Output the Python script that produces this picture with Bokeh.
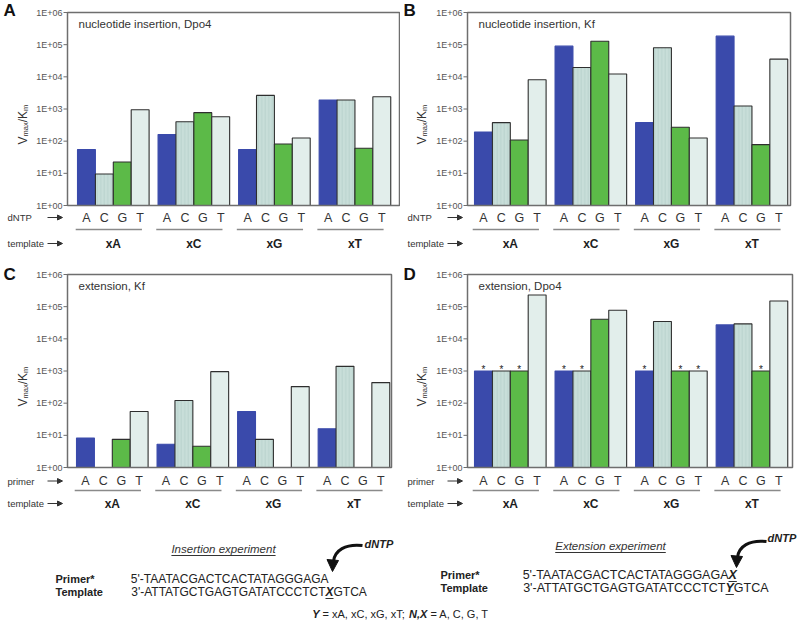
import math
from bokeh.plotting import figure
from bokeh.layouts import column, row
from bokeh.models import Range1d, ColumnDataSource, Arrow, NormalHead
from bokeh.core.properties import value
from bokeh.embed import file_html
from bokeh.resources import INLINE

# ---------------- data ----------------
templates = ["xA", "xC", "xG", "xT"]
bases = ["A", "C", "G", "T"]
tick_values = [1, 10, 100, 1000, 10000, 100000, 1000000]
tick_labels = ["1E+00", "1E+01", "1E+02", "1E+03", "1E+04", "1E+05", "1E+06"]

# values ordered template-major: xA(A,C,G,T), xC(...), xG(...), xT(...)
ins_dpo4 = [55, 9.5, 22.6, 950, 160, 400, 770, 577, 55, 2650, 82, 126, 1900, 1900, 60, 2400]
ins_kf = [193, 376, 109, 8100, 90000, 19500, 128000, 12200, 376, 80000, 270, 126, 184000, 1240, 78, 35500]
ext_kf = [8.3, None, 7.5, 55, 5.3, 121, 4.6, 953, 55, 7.5, None, 327, 16, 1394, None, 436]
ext_dpo4 = [1000, 1000, 1000, 230000, 1000, 1000, 40600, 77000, 1000, 34400, 1000, 1000, 27100, 29100, 1000, 150000]
ext_dpo4_stars = [1, 1, 1, 0, 1, 1, 0, 0, 1, 0, 1, 1, 0, 0, 1, 0]

BAR_FILL = {"A": "#3a4aab", "C": "#c8ded9", "G": "#5cba48", "T": "#e2eeeb"}
BAR_LINE = {"A": "#3a4aab", "C": "#2e2e2e", "G": "#2e2e2e", "T": "#2e2e2e"}
BAR_HATCH = {"A": " ", "C": "|", "G": " ", "T": " "}

FONT = "Liberation Sans"
U = 17.9          # px per bar
PITCH = 4.5       # bar units per template group
FRAME_H = 193
DEC = FRAME_H / 6.0   # px per decade


def make_panel(letter, title, vals, rowlabel, fig_left, fig_top, fig_h,
               frame_top, frame_left, frame_right, first_bar, offs, stars=None):
    frame_bottom = frame_top + FRAME_H

    def xv(px):
        return (px - first_bar) / U

    def yv(py):
        return 10 ** ((frame_bottom - py) / DEC)

    p = figure(width=400, height=fig_h,
               x_range=Range1d(xv(fig_left), xv(fig_left + 400)),
               y_range=Range1d(yv(fig_top + fig_h), yv(fig_top)),
               y_axis_type="log", toolbar_location=None, output_backend="svg",
               min_border=0, x_axis_location=None, y_axis_location=None)
    p.grid.visible = False
    p.outline_line_color = None

    def txt(x, y, s, size, style="normal", align="left", color="#333333",
            baseline="middle", angle=0.0):
        p.text(x=x, y=y, text=s, text_font=value(FONT),
               text_font_size=value(f"{size}px"), text_font_style=value(style),
               text_align=value(align), text_baseline=value(baseline),
               text_color=color, angle=angle)

    centers, letters, gcs = [], [], []
    for g in range(4):
        gcs.append(g * PITCH + 2)
        for i, b in enumerate(bases):
            centers.append(g * PITCH + i + 0.5)
            letters.append(b)

    # bars
    bx, bt, bf, bl, bh = [], [], [], [], []
    sx, sy = [], []
    for k, v in enumerate(vals):
        if v is None:
            continue
        b = letters[k]
        bx.append(centers[k])
        bt.append(v)
        bf.append(BAR_FILL[b])
        bl.append(BAR_LINE[b])
        bh.append(BAR_HATCH[b])
        if stars is not None and stars[k]:
            sx.append(centers[k])
            sy.append(v * 10 ** (1.5 / DEC))
    src = ColumnDataSource(dict(x=bx, top=bt, fill=bf, line=bl, hatch=bh))
    p.vbar(x="x", top="top", bottom=tick_values[0], width=1, fill_color="fill",
           line_color="line", line_width=1.1, hatch_pattern="hatch",
           hatch_color="#a9c8c1", hatch_alpha=0.5, hatch_scale=3.5,
           hatch_weight=1, source=src)
    if sx:
        txt(sx, sy, ["*"] * len(sx), 10, align="center", baseline="alphabetic",
            color="#222222")

    # plot box
    p.quad(left=[xv(frame_left)], right=[xv(frame_right)],
           bottom=[tick_values[0]], top=[tick_values[-1]],
           fill_color=None, line_color="#6e6e6e", line_width=1.5)

    # y ticks and labels
    p.segment(x0=[xv(frame_left - 4)] * len(tick_values), y0=tick_values,
              x1=[xv(frame_left)] * len(tick_values), y1=tick_values,
              line_color="#6e6e6e", line_width=1)
    txt([xv(frame_left - 5)] * len(tick_values), tick_values, tick_labels, 9,
        align="right", color="#555555")

    # x category labels
    o1, o2, o3 = offs
    txt(centers, [yv(frame_bottom + o1)] * 16, letters, 12.5, align="center",
        color="#333333")
    txt(gcs, [yv(frame_bottom + o3)] * 4, templates, 12, style="bold",
        align="center", color="#1e1e1e")
    p.segment(x0=[g * PITCH - 0.1 for g in range(4)], y0=[yv(frame_bottom + o2)] * 4,
              x1=[g * PITCH + 3.6 for g in range(4)], y1=[yv(frame_bottom + o2)] * 4,
              line_color="#8a8a8a", line_width=1.6)

    # row labels + arrows
    L = fig_left + 7
    txt([xv(L), xv(L)], [yv(frame_bottom + o1), yv(frame_bottom + o3)],
        [rowlabel, "template"], 9.5, color="#333333")
    for dy in (o1, o3):
        p.add_layout(Arrow(x_start=xv(L + 40), y_start=yv(frame_bottom + dy),
                           x_end=xv(L + 55), y_end=yv(frame_bottom + dy),
                           end=NormalHead(size=5, fill_color="#333333",
                                          line_color="#333333"),
                           line_color="#333333", line_width=1))

    # panel title and letter
    txt([xv(frame_left + 11)], [yv(frame_top + 11)], [title], 11.5, color="#333333")
    txt([xv(fig_left + 3)], [yv(frame_top - 2 if fig_top == 0 else frame_top)], [letter],
        17, style="bold", color="#111111")

    # y-axis label V_max/K_m (rotated)
    lab_x = fig_left + (22 if fig_left == 0 else 21)
    cur = frame_bottom - 61
    pieces = [("V", 12, 0, 0.667), ("max", 7.5, 3, 1.889), ("/K", 12, 0, 0.945),
              ("m", 7.5, 3, 0.833)]
    for s, size, dx, em in pieces:
        txt([xv(lab_x + dx)], [yv(cur)], [s], size, color="#333333",
            angle=math.pi / 2)
        cur -= em * size
    return p


pA = make_panel("A", "nucleotide insertion, Dpo4", ins_dpo4, "dNTP",
                0, 0, 266, 12, 67, 399, 77, (12, 24, 38))
pB = make_panel("B", "nucleotide insertion, Kf", ins_kf, "dNTP",
                400, 0, 266, 12, 467, 790, 474, (12, 24, 38))
pC = make_panel("C", "extension, Kf", ext_kf, "primer",
                0, 266, 264, 274, 67, 391, 76, (13.5, 23, 36))
pD = make_panel("D", "extension, Dpo4", ext_dpo4, "primer",
                400, 266, 264, 274, 467, 792, 474, (13.5, 23, 36),
                stars=ext_dpo4_stars)

# ---------------- bottom scheme ----------------
REG = {' ': 278, "'": 191, '*': 389, ',': 278, '-': 333, ';': 278, '=': 584,
       '3': 556, '5': 556, 'A': 667, 'C': 722, 'G': 778, 'T': 611, 'X': 667,
       'Y': 667, 'N': 722, 'x': 500, 'I': 278, 'E': 667, 'n': 556, 's': 500,
       'e': 556, 'r': 333, 't': 278, 'i': 222, 'o': 556, 'p': 556, 'm': 833}
BOLD = {'X': 667, 'Y': 667, 'N': 722, ',': 278}


def tw(s, size, bold=False):
    t = BOLD if bold else REG
    return sum(t.get(c, 556) for c in s) * size / 1000.0


pb = figure(width=800, height=114, x_range=Range1d(0, 800), y_range=Range1d(644, 530),
            toolbar_location=None, output_backend="svg", min_border=0,
            x_axis_location=None, y_axis_location=None)
pb.grid.visible = False
pb.outline_line_color = None


def btxt(x, y, s, size, style="normal", align="left", color="#222222"):
    pb.text(x=[x], y=[y], text=[s], text_font=value(FONT),
            text_font_size=value(f"{size}px"), text_font_style=value(style),
            text_align=value(align), text_baseline=value("middle"),
            text_color=color)


def uline(x0, x1, y, w=1):
    pb.segment(x0=[x0], y0=[y], x1=[x1], y1=[y], line_color="#333333", line_width=w)


primer_seq = "5'-TAATACGACTCACTATAGGGAGA"
template_seq = "3'-ATTATGCTGAGTGATATCCCTCT"

# Insertion experiment (left)
w = tw("Insertion experiment", 11.5)
btxt(223, 548, "Insertion experiment", 11.5, "italic", "center", "#333333")
uline(223 - w / 2, 223 + w / 2, 555)
SEQL = 12
PL = 325
btxt(55, 578, "Primer*", 11, "bold")
btxt(PL + 3, 578, primer_seq, SEQL, align="right")
btxt(55, 591, "Template", 11, "bold")
btxt(PL, 591, template_seq, SEQL, align="right")
wx = tw("X", SEQL, True)
btxt(PL, 591, "X", SEQL, "bold italic")
uline(PL, PL + wx, 598)
btxt(PL + wx, 591, "GTCA", SEQL)

# Extension experiment (right)
w2 = tw("Extension experiment", 11.5)
btxt(610, 545, "Extension experiment", 11.5, "italic", "center", "#333333")
uline(610 - w2 / 2, 610 + w2 / 2, 552)
SEQR = 12.5
PR = 725
btxt(440, 574, "Primer*", 11, "bold")
btxt(PR + 3, 574, primer_seq, SEQR, align="right")
btxt(PR + 3, 574, "X", SEQR, "bold italic")
uline(PR + 3, PR + 3 + tw("X", SEQR, True), 581)
btxt(440, 587, "Template", 11, "bold")
btxt(PR, 587, template_seq, SEQR, align="right")
wy = tw("Y", SEQR, True)
btxt(PR, 587, "Y", SEQR, "bold italic")
uline(PR, PR + wy, 594)
btxt(PR + wy, 587, "GTCA", SEQR)

# curved dNTP arrows
for (tx, ty, lx, ly) in [(332, 571, 364, 543), (736, 567, 767, 537)]:
    pb.bezier(x0=[tx + 30], y0=[ty - 26], x1=[tx + 1], y1=[ty - 10],
              cx0=[tx + 13], cy0=[ty - 28], cx1=[tx + 2], cy1=[ty - 21],
              line_color="#111111", line_width=3)
    pb.patch(x=[tx, tx - 5.5, tx + 6], y=[ty, ty - 12, ty - 11], fill_color="#111111",
             line_color="#111111")
    btxt(lx, ly, "dNTP", 11, "bold italic", "left", "#222222")

# legend line (leading spaces are advanced manually, SVG collapses them)
parts = [("Y", "bold italic"), (" = xA, xC, xG, xT; ", "normal"),
         ("N,X", "bold italic"), (" = A, C, G, T", "normal")]
LS = 11
total = sum(tw(s, LS, st != "normal") for s, st in parts)
cx = 400 - total / 2
for s, st in parts:
    bold = st != "normal"
    lead = len(s) - len(s.lstrip(" "))
    btxt(cx + tw(" " * lead, LS), 613, s.strip(" "), LS, st)
    cx += tw(s, LS, bold)

layout = column(row(pA, pB), row(pC, pD), pb)
open("out.html", "w").write(file_html(layout, INLINE))
